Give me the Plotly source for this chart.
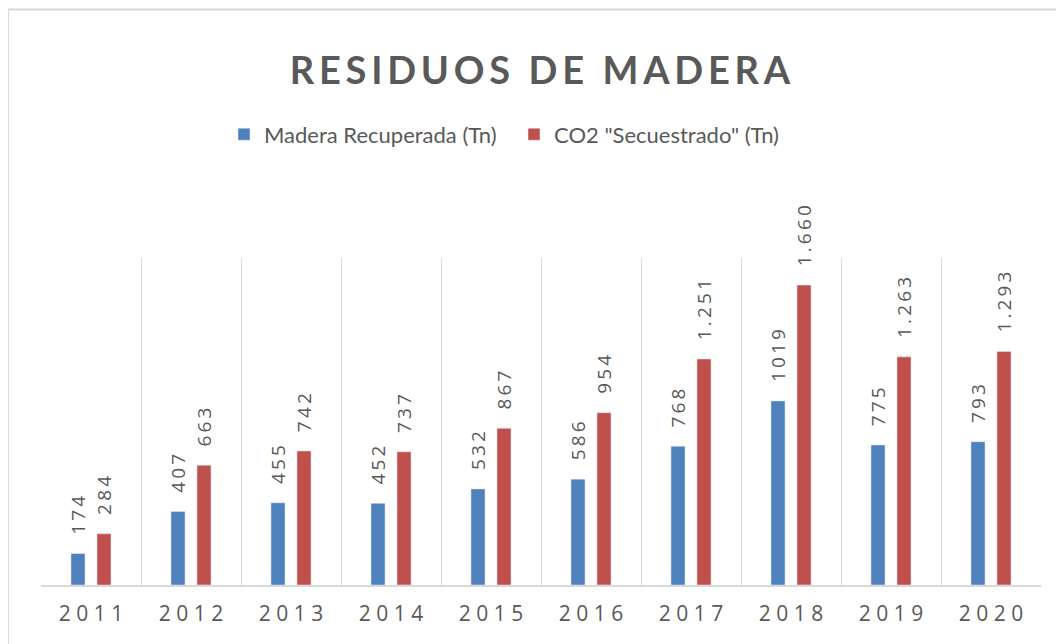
import plotly.graph_objects as go

years = ["2011", "2012", "2013", "2014", "2015", "2016", "2017", "2018", "2019", "2020"]
madera = [174, 407, 455, 452, 532, 586, 768, 1019, 775, 793]
co2 = [284, 663, 742, 737, 867, 954, 1251, 1660, 1263, 1293]

THIN = "\u2009"
tick_labels = [" ".join(y) for y in years]


def spaced(s):
    return "\u2002" + THIN + THIN + THIN.join(s)


madera_text = [spaced(str(v)) for v in madera]
co2_text = [spaced(f"{v:,}".replace(",", ".")) for v in co2]

gray = "#595959"
fig = go.Figure()
fig.add_trace(go.Bar(
    x=years, y=madera, name="Madera Recuperada (Tn)",
    marker=dict(color="#4F81BD"),
    text=madera_text, textposition="outside", textangle=-90,
    constraintext="none", cliponaxis=False,
    textfont=dict(size=19, color=gray, family="Open Sans"),
))
fig.add_trace(go.Bar(
    x=years, y=co2, name='CO2 "Secuestrado" (Tn)',
    marker=dict(color="#C0504D"),
    text=co2_text, textposition="outside", textangle=-90,
    constraintext="none", cliponaxis=False,
    textfont=dict(size=19, color=gray, family="Open Sans"),
))

title_txt = "  ".join(THIN.join(w) for w in ["RESIDUOS", "DE", "MADERA"])

fig.update_layout(
    width=1064, height=644,
    margin=dict(l=33, r=31, t=250, b=67),
    paper_bgcolor="white", plot_bgcolor="white",
    barmode="group", bargap=0.48, bargroupgap=0.46,
    title=dict(text="<b>" + title_txt + "</b>",
               x=0.5, xanchor="center", y=0.902, yanchor="middle",
               font=dict(size=38, color=gray, family="Lato")),
    legend=dict(orientation="h", x=0.183, xanchor="left", y=1.378, yanchor="middle",
                font=dict(size=22, color=gray, family="Lato"), traceorder="normal",
                entrywidth=245, entrywidthmode="pixels"),
    showlegend=True,
)
fig.update_xaxes(
    type="category", tickmode="array", tickvals=years, ticktext=tick_labels,
    tickson="boundaries", showgrid=True, gridcolor="#d9d9d9", gridwidth=1,
    showline=True, linecolor="#d9d9d9", linewidth=2, ticks="",
    ticklabelstandoff=9,
    tickfont=dict(size=21, color=gray, family="Open Sans"),
)
fig.update_yaxes(range=[0, 1810], showgrid=False, showticklabels=False, zeroline=False)

fig.add_shape(type="rect", xref="paper", yref="paper",
              x0=-0.033, x1=1.2, y0=-0.5, y1=1.76,
              line=dict(color="#d9d9d9", width=2), layer="below")

fig.write_html("out.html")
